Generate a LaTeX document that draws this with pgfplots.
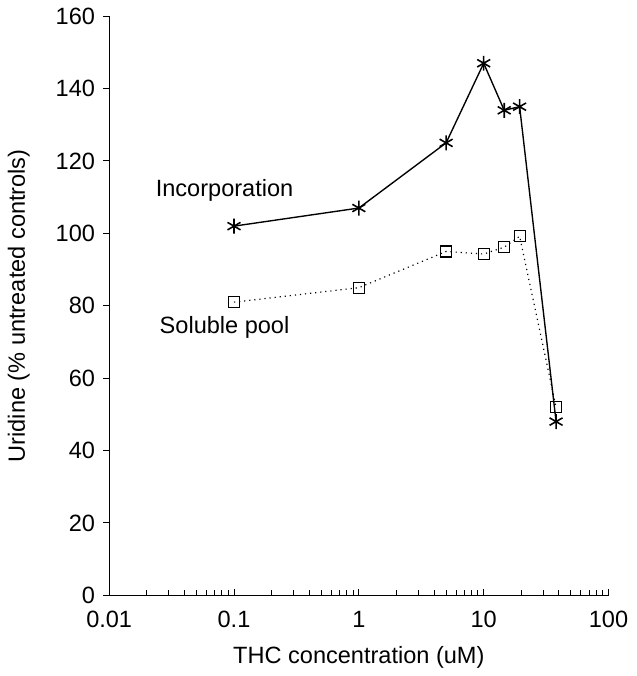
\documentclass[border=0pt]{standalone}
\usepackage{fontspec}
\setmainfont{Liberation Sans}
\usepackage{pgfplots}
\pgfplotsset{compat=1.18}

\begin{document}
\fontsize{12}{14}\selectfont
\begin{tikzpicture}
  \begin{axis}[
      scale only axis,
      width=253.5bp, height=294bp,
      xmode=log,
      xmin=0.01, xmax=100,
      ymin=0, ymax=160,
      axis x line*=bottom,
      axis y line*=left,
      xtick={0.01,0.1,1,10,100},
      xticklabels={0.01,0.1,1,10,100},
      ytick={0,20,...,160},
      xtick align=inside,
      ytick align=outside,
      major tick length=3bp,
      minor tick length=2.5bp,
      tick style={black, line width=0.5pt},
      /pgf/number format/assume math mode=true,
      tick label style={font=\fontsize{12}{14}\selectfont},
      x tick label style={yshift=-4bp},
      xlabel={THC concentration (uM)},
      ylabel={Uridine (\% untreated controls)},
      label style={font=\fontsize{12}{14}\selectfont},
      xlabel style={yshift=-1bp},
      ylabel style={yshift=5bp},
      axis line style={line width=0.5pt},
      clip=false,
    ]
    % Incorporation
    \addplot[black, line width=0.7pt, mark=asterisk, mark size=3.8bp,
             mark options={line width=0.8pt}] coordinates {
      (0.1,102) (1,107) (5,125) (10,147) (14.6,134) (19.4,135) (38,48)
    };
    % Soluble pool
    \addplot[black, dotted, line width=0.6pt, mark=square, mark size=2.8bp,
             mark options={solid, line width=0.6pt}] coordinates {
      (0.1,81) (1,85) (5,95) (10,94.3) (14.6,96.2) (19.4,99.2) (38,52)
    };
    \node at (axis cs:0.084,112) {Incorporation};
    \node at (axis cs:0.084,74) {Soluble pool};
  \end{axis}
\end{tikzpicture}
\end{document}
